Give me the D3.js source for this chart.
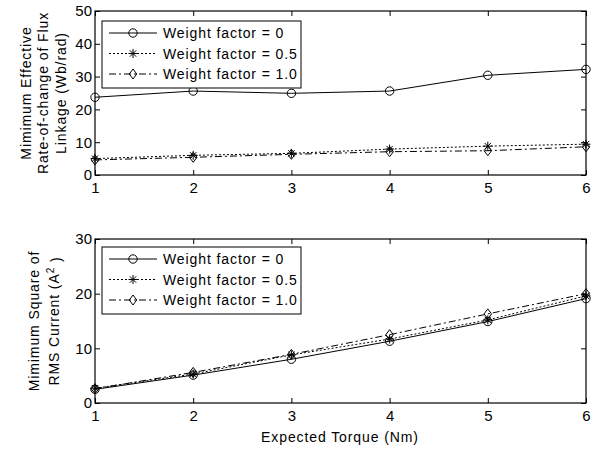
<!DOCTYPE html>
<html><head><meta charset="utf-8">
<script src="https://cdnjs.cloudflare.com/ajax/libs/d3/7.8.5/d3.min.js"></script>
<style>body{margin:0;background:#fff}svg{display:block;font-family:"Liberation Sans",Arial,sans-serif}</style>
</head><body>
<script>
const torque = [1, 2, 3, 4, 5, 6];
const seriesNames = ["Weight factor = 0", "Weight factor = 0.5", "Weight factor = 1.0"];
const fluxW0 = [23.7, 25.6, 24.9, 25.6, 30.4, 32.2];
const fluxW05 = [5.0, 6.0, 6.6, 7.9, 8.8, 9.4];
const fluxW10 = [4.6, 5.4, 6.3, 7.1, 7.4, 8.6];
const rmsW0 = [2.5, 5.1, 8.0, 11.3, 14.9, 19.1];
const rmsW05 = [2.7, 5.3, 8.8, 11.7, 15.2, 19.6];
const rmsW10 = [2.6, 5.6, 8.9, 12.5, 16.3, 20.0];
const xTicks = [1, 2, 3, 4, 5, 6];
const yTicksTop = [0, 10, 20, 30, 40, 50];
const yTicksBottom = [0, 10, 20, 30];

const W = 602, H = 453;
const svg = d3.select("body").append("svg").attr("width", W).attr("height", H);
const styles = [
  {dash: null, marker: "circle"},
  {dash: "2,2", marker: "star"},
  {dash: "7,3,2,3", marker: "diamond"}
];
const LS = "0.9px";

function drawMarker(g, type, cx, cy) {
  if (type === "circle") {
    g.append("circle").attr("cx", cx).attr("cy", cy).attr("r", 4.2)
      .attr("fill", "none").attr("stroke", "#000").attr("stroke-width", 1);
  } else if (type === "star") {
    const r = 4.5;
    const p = [];
    for (let i = 0; i < 4; i++) {
      const a = i * Math.PI / 4;
      p.push(`M${cx - r*Math.cos(a)},${cy - r*Math.sin(a)}L${cx + r*Math.cos(a)},${cy + r*Math.sin(a)}`);
    }
    g.append("path").attr("d", p.join("")).attr("stroke", "#000").attr("stroke-width", 1).attr("fill", "none");
  } else {
    const r = 5;
    g.append("path").attr("d", `M${cx},${cy-r}L${cx+r*0.75},${cy}L${cx},${cy+r}L${cx-r*0.75},${cy}Z`)
      .attr("fill", "none").attr("stroke", "#000").attr("stroke-width", 1);
  }
}

function panel(top, bottom, yMax, yTicks, data, legendBox) {
  const left = 95, right = 586;
  const x = d3.scaleLinear().domain([1, 6]).range([left, right]);
  const y = d3.scaleLinear().domain([0, yMax]).range([bottom, top]);
  const g = svg.append("g");
  const axB = g.append("g").attr("transform", `translate(0,${bottom})`)
    .call(d3.axisBottom(x).tickValues(xTicks).tickFormat(d3.format("d")).tickSizeInner(-5).tickSizeOuter(0).tickPadding(7));
  const axT = g.append("g").attr("transform", `translate(0,${top})`)
    .call(d3.axisTop(x).tickValues(xTicks).tickFormat("").tickSizeInner(-5).tickSizeOuter(0));
  const axL = g.append("g").attr("transform", `translate(${left},0)`)
    .call(d3.axisLeft(y).tickValues(yTicks).tickFormat(d3.format("d")).tickSizeInner(-5).tickSizeOuter(0).tickPadding(3));
  const axR = g.append("g").attr("transform", `translate(${right},0)`)
    .call(d3.axisRight(y).tickValues(yTicks).tickFormat("").tickSizeInner(-5).tickSizeOuter(0));
  [axB, axT, axL, axR].forEach(a => {
    a.select(".domain").remove();
    a.selectAll("line").attr("stroke", "#000");
    a.selectAll("text").attr("font-size", 15).attr("fill", "#000").attr("font-family", "Liberation Sans, Arial, sans-serif");
  });
  axB.selectAll("text").attr("dy", "0.71em");
  g.append("rect").attr("x", left).attr("y", top).attr("width", right - left).attr("height", bottom - top)
    .attr("fill", "none").attr("stroke", "#000").attr("stroke-width", 1.2);

  const line = d3.line().x((d, i) => x(torque[i])).y(d => y(d));
  data.forEach((vals, si) => {
    const s = styles[si];
    g.append("path").datum(vals).attr("d", line).attr("fill", "none").attr("stroke", "#000")
      .attr("stroke-width", 1).attr("stroke-dasharray", s.dash);
    vals.forEach((v, i) => drawMarker(g, s.marker, x(torque[i]), y(v)));
  });

  const lb = legendBox;
  g.append("rect").attr("x", lb.x).attr("y", lb.y).attr("width", lb.w).attr("height", lb.h)
    .attr("fill", "#fff").attr("stroke", "#000").attr("stroke-width", 1);
  seriesNames.forEach((name, si) => {
    const yy = lb.y + 12 + si * 20.5;
    const s = styles[si];
    g.append("line").attr("x1", lb.x + 7).attr("x2", lb.x + 55).attr("y1", yy).attr("y2", yy)
      .attr("stroke", "#000").attr("stroke-width", 1).attr("stroke-dasharray", s.dash);
    drawMarker(g, s.marker, lb.x + 31, yy);
    g.append("text").attr("x", lb.x + 61).attr("y", yy + 5).attr("font-size", 14)
      .attr("letter-spacing", LS).text(name);
  });
}

panel(11, 175, 50, yTicksTop, [fluxW0, fluxW05, fluxW10], {x: 102, y: 21, w: 199, h: 67});
panel(239, 403, 30, yTicksBottom, [rmsW0, rmsW05, rmsW10], {x: 102, y: 247, w: 199, h: 67});

const t1 = svg.append("text").attr("transform", "translate(32,93) rotate(-90)").attr("text-anchor", "middle")
  .attr("font-size", 14).attr("letter-spacing", LS);
t1.append("tspan").attr("x", 0).attr("dy", "-0.1em").text("Mimimum Effective");
t1.append("tspan").attr("x", 0).attr("dy", "1.25em").text("Rate-of-change of Flux");
t1.append("tspan").attr("x", 0).attr("dy", "1.25em").text("Linkage (Wb/rad)");

svg.append("text").attr("transform", "translate(39,321) rotate(-90)").attr("text-anchor", "middle")
  .attr("font-size", 14).attr("letter-spacing", LS).text("Mimimum Square of");
const l2 = svg.append("text").attr("transform", "translate(59,321) rotate(-90)").attr("text-anchor", "middle")
  .attr("font-size", 14).attr("letter-spacing", LS);
l2.append("tspan").text("RMS Current (A");
l2.append("tspan").attr("dy", "-0.5em").attr("font-size", 10).text("2");
l2.append("tspan").attr("dy", "0.5em").text(" )");

svg.append("text").attr("x", 340).attr("y", 442).attr("text-anchor", "middle").attr("font-size", 14)
  .attr("letter-spacing", LS).text("Expected Torque (Nm)");
</script>
</body></html>
